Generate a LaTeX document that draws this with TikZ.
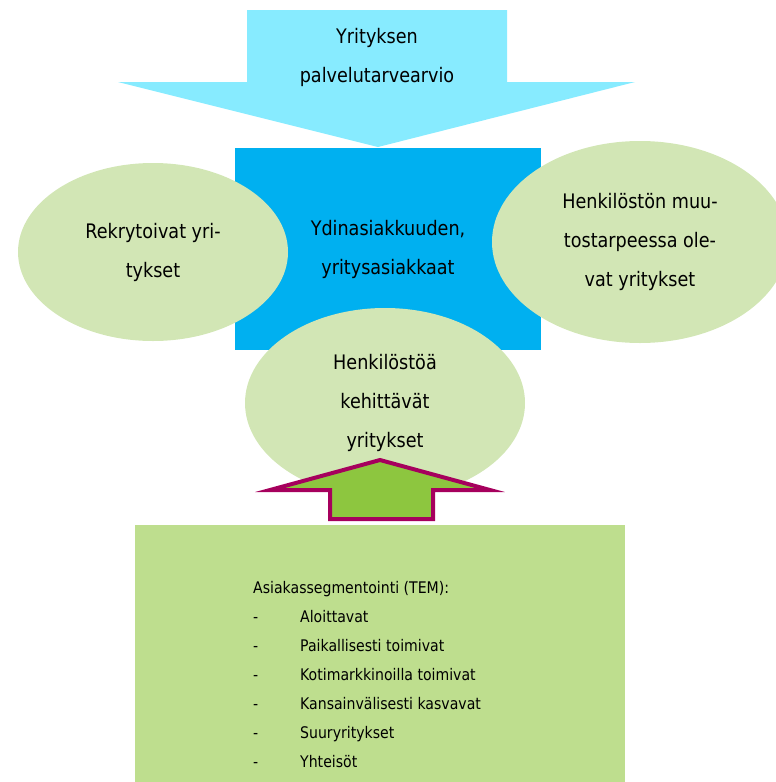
\documentclass[tikz,border=0pt]{standalone}
\usepackage{fontspec}
\setmainfont{DejaVu Sans}[FakeStretch=0.88]
\usetikzlibrary{positioning,shapes.geometric}
\definecolor{skyarrow}{RGB}{135,235,255}
\definecolor{coreblue}{RGB}{0,176,240}
\definecolor{palegreen}{RGB}{210,230,181}
\definecolor{listgreen}{RGB}{190,222,142}
\definecolor{upgreen}{RGB}{141,198,63}
\definecolor{plum}{RGB}{166,0,93}

\begin{document}
\begin{tikzpicture}[x=1pt,y=-1pt,
    big/.style={font=\fontsize{20}{39}\selectfont,align=center},
    blob/.style={ellipse,fill=palegreen,inner sep=0pt,big}]
      \useasboundingbox (0,0) rectangle (776,782);
      % arrow coming down
      \fill[skyarrow] (247,10) -- (507,10) -- (507,82) -- (635,82)
        -- (378,147) -- (118,82) -- (247,82) -- cycle;
      \node[big] (demand) at (377,57) {Yrityksen\\palvelutarvearvio};

      \node[big,fill=coreblue,minimum width=306pt,minimum height=202pt]
      (core) at (388,249) {Ydinasiakkuuden,\\yritysasiakkaat};
      \node[blob,minimum width=270pt,minimum height=178pt]
      (recruit) at (153,252) {Rekrytoivat yri-\\tykset};
      \node[blob,minimum width=296pt,minimum height=202pt]
      (change) at (640,242) {Henkilöstön muu-\\tostarpeessa ole-\\vat yritykset};
      \node[blob,minimum width=280pt,minimum height=190pt]
      (develop) at (385,403) {Henkilöstöä\\kehittävät\\yritykset};

      % arrow going up
      \filldraw[fill=upgreen,draw=plum,line width=4pt]
        (380,460) -- (490,490) -- (433,490) -- (433,519)
        -- (330,519) -- (330,490) -- (270,490) -- cycle;

      \fill[listgreen] (135,525) rectangle (625,782);
      \node[anchor=base west,inner sep=0pt,
            font=\fontsize{16}{29}\selectfont]
      (segments) at (253,593)
      {\begin{tabular}[t]{@{}p{47pt}@{}l@{}}
        \multicolumn{2}{@{}l@{}}{Asiakassegmentointi (TEM):}\\
        - & Aloittavat\\
        - & Paikallisesti toimivat\\
        - & Kotimarkkinoilla toimivat\\
        - & Kansainvälisesti kasvavat\\
        - & Suuryritykset\\
        - & Yhteisöt
      \end{tabular}};
    \end{tikzpicture}
\end{document}
